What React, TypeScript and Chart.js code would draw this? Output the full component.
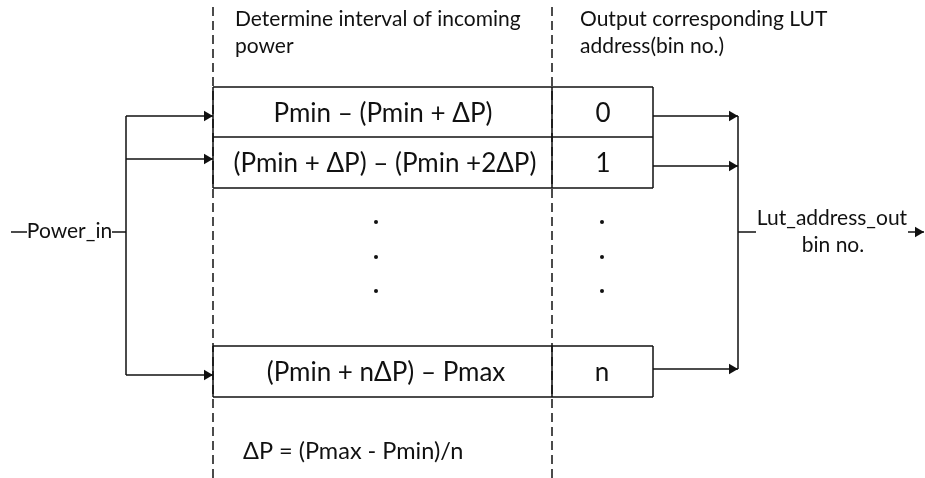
import { useEffect, useRef } from "react";
import { Chart, registerables } from "chart.js";

Chart.register(...registerables);

// ---- content ----
const rowLabels = ["Pmin – (Pmin + ΔP)", "(Pmin + ΔP) – (Pmin +2ΔP)", "(Pmin + nΔP) – Pmax"];
const binLabels = ["0", "1", "n"];
const headerLeft = ["Determine interval of incoming", "power"];
const headerRight = ["Output corresponding LUT", "address(bin no.)"];
const inputLabel = "Power_in";
const outputLabel = ["Lut_address_out", "bin no."];
const footnote = "ΔP = (Pmax - Pmin)/n";

// ---- diagram geometry (diagram units on a 925 x 478 grid) ----
type Seg = [number, number, number, number];
const boxSegments: Seg[] = [
  [213, 87, 653, 87],
  [213, 137, 653, 137],
  [213, 188, 653, 188],
  [213, 87, 213, 188],
  [552, 87, 552, 188],
  [653, 87, 653, 188],
  [213, 346, 653, 346],
  [213, 397, 653, 397],
  [213, 346, 213, 397],
  [552, 346, 552, 397],
  [653, 346, 653, 397],
];
const dashedSegments: Seg[] = [
  [213, 7, 213, 478],
  [552, 7, 552, 478],
];
const wireSegments: Seg[] = [
  [11, 232, 27, 232],
  [112, 232, 126, 232],
  [126, 116, 126, 375],
  [126, 116, 213, 116],
  [126, 159, 213, 159],
  [126, 375, 213, 375],
  [653, 116, 738, 116],
  [653, 166, 738, 166],
  [653, 369, 738, 369],
  [738, 116, 738, 369],
  [738, 232, 756, 232],
  [908, 232, 924, 232],
];
const arrowTips: [number, number][] = [
  [213, 116],
  [213, 159],
  [213, 375],
  [738, 116],
  [738, 166],
  [738, 369],
  [924, 232],
];
const ellipsisDots: [number, number][] = [
  [376, 222], [376, 257], [376, 291],
  [602, 222], [602, 257], [602, 291],
];

// text anchors: [x, baselineY]
const rowLabelPos: [number, number][] = [[383, 122], [385, 172], [386, 381]];
const binLabelPos: [number, number][] = [[603, 122], [603, 172], [602, 381]];
const headerLeftPos: [number, number][] = [[235, 26], [235, 53]];
const headerRightPos: [number, number][] = [[580, 26], [580, 53]];
const inputLabelPos: [number, number] = [69.5, 238];
const outputLabelPos: [number, number][] = [[832, 225], [833, 252]];
const footnotePos: [number, number] = [243, 459];

const FONT = "Lato, 'Noto Sans', sans-serif";
const INK = "#111111";
const ARROW_R = 6;
const SMALL = 21;
const LARGE = 26;
const NOTE = 23.5;

type TextItem = { text: string; x: number; y: number; align: CanvasTextAlign; size: number };

function buildTexts(): TextItem[] {
  const items: TextItem[] = [];
  headerLeft.forEach((t, i) => items.push({ text: t, x: headerLeftPos[i][0], y: headerLeftPos[i][1], align: "left", size: SMALL }));
  headerRight.forEach((t, i) => items.push({ text: t, x: headerRightPos[i][0], y: headerRightPos[i][1], align: "left", size: SMALL }));
  rowLabels.forEach((t, i) => items.push({ text: t, x: rowLabelPos[i][0], y: rowLabelPos[i][1], align: "center", size: LARGE }));
  binLabels.forEach((t, i) => items.push({ text: t, x: binLabelPos[i][0], y: binLabelPos[i][1], align: "center", size: LARGE }));
  items.push({ text: inputLabel, x: inputLabelPos[0], y: inputLabelPos[1], align: "center", size: SMALL });
  outputLabel.forEach((t, i) => items.push({ text: t, x: outputLabelPos[i][0], y: outputLabelPos[i][1], align: "center", size: SMALL }));
  items.push({ text: footnote, x: footnotePos[0], y: footnotePos[1], align: "left", size: NOTE });
  return items;
}

const textPlugin = {
  id: "diagramText",
  afterDatasetsDraw(chart: any) {
    const { ctx, scales } = chart;
    const xs = scales.x;
    const ys = scales.y;
    ctx.save();
    ctx.fillStyle = INK;
    ctx.textBaseline = "alphabetic";
    for (const it of buildTexts()) {
      ctx.font = `${it.size}px ${FONT}`;
      ctx.textAlign = it.align;
      ctx.fillText(it.text, xs.getPixelForValue(it.x), ys.getPixelForValue(it.y));
    }
    ctx.restore();
  },
};

function segDataset(s: Seg, dashed: boolean) {
  return {
    data: [{ x: s[0], y: s[1] }, { x: s[2], y: s[3] }],
    showLine: true,
    borderColor: INK,
    borderWidth: 1.5,
    borderDash: dashed ? [9, 5] : [],
    pointRadius: 0,
    pointHoverRadius: 0,
    clip: false,
  };
}

export default function App() {
  const ref = useRef<HTMLCanvasElement | null>(null);

  useEffect(() => {
    if (!ref.current) return;
    const datasets: any[] = [];
    boxSegments.forEach((s) => datasets.push(segDataset(s, false)));
    wireSegments.forEach((s) => datasets.push(segDataset(s, false)));
    dashedSegments.forEach((s) => datasets.push(segDataset(s, true)));
    datasets.push({
      data: arrowTips.map(([x, y]) => ({ x: x - ARROW_R, y })),
      pointStyle: "triangle",
      rotation: 90,
      pointRadius: ARROW_R,
      pointHoverRadius: ARROW_R,
      backgroundColor: INK,
      borderWidth: 0,
      showLine: false,
      clip: false,
    });
    datasets.push({
      data: ellipsisDots.map(([x, y]) => ({ x, y })),
      pointStyle: "circle",
      pointRadius: 2,
      pointHoverRadius: 2,
      backgroundColor: INK,
      borderWidth: 0,
      showLine: false,
      clip: false,
    });

    const chart = new Chart(ref.current, {
      type: "scatter",
      data: { datasets },
      options: {
        animation: false,
        responsive: false,
        maintainAspectRatio: false,
        devicePixelRatio: 1,
        events: [],
        layout: { padding: 0, autoPadding: false },
        plugins: { legend: { display: false }, tooltip: { enabled: false } },
        scales: {
          x: { type: "linear", min: 0, max: 925, display: false },
          y: { type: "linear", min: 0, max: 478, reverse: true, display: false },
        },
      },
      plugins: [textPlugin],
    });
    return () => chart.destroy();
  }, []);

  return (
    <div style={{ position: "fixed", left: 0, top: 0, width: 925, height: 478, background: "#ffffff" }}>
      <canvas ref={ref} width={925} height={478} style={{ width: 925, height: 478, display: "block" }} />
    </div>
  );
}
